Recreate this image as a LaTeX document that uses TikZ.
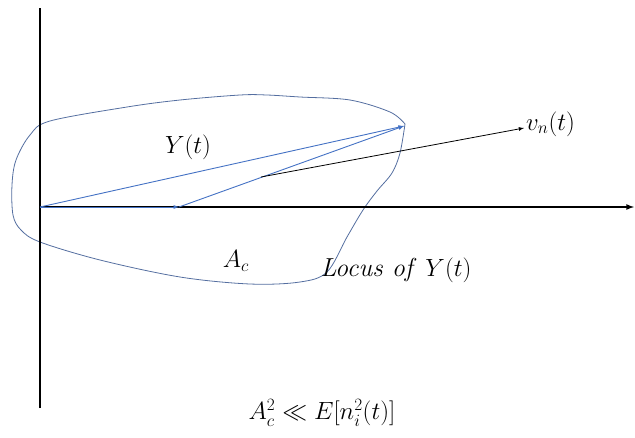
\documentclass[tikz,border=0pt]{standalone}
\usepackage{amsmath,amssymb}
\usetikzlibrary{arrows,positioning,calc}
\definecolor{vecblue}{RGB}{68,114,196}
\definecolor{locblue}{RGB}{84,110,160}

\begin{document}
\begin{tikzpicture}[x=1pt,y=-1pt,>=latex,
  lbl/.style={inner sep=1pt,font=\fontsize{26}{30}\selectfont}]
\useasboundingbox (0,0) rectangle (635,437);
\coordinate (o) at (40,207);
\coordinate (top) at (40,8);
\coordinate (bot) at (40,408);
\coordinate (xend) at (634,207);
\coordinate (ac) at (179,207);
\coordinate (y) at (404,126);
\coordinate (ns) at (261,177);
\coordinate (ne) at (524,128);
% locus
\draw[locblue,line width=0.8pt] plot[smooth,tension=0.55] coordinates {
(405,124) (390,112) (350,100) (300,97) (267,95) (240,95) (180,100) (127,107)
(50,121) (30,135) (16,160) (12,185) (13,215) (21,230) (40,242) (100,260)
(180,277) (250,284) (300,282) (327,272) (347,237) (363,210) (377,191)
(392,173) (400,153) (405,124)};
\path[-,line width=1.6pt]
(bot) edge (top)
;
\path[->,line width=1.6pt]
(o) edge (xend)
;
\path[->,vecblue,line width=0.9pt]
(o) edge (ac) edge (y)
(ac) edge (y)
;
\path[->,line width=0.8pt]
(ns) edge (ne)
;
\node[lbl] (ylbl) at (188,147) {$Y(t)$};
\node[lbl,right=1pt of ne,yshift=4pt] (vlbl) {$v_n(t)$};
\node[lbl] (aclbl) at (236,261) {$A_c$};
\node[lbl] (loclbl) at (396,270) {\textit{Locus of }$Y(t)$};
\node[lbl] (cond) at (322,413) {$A_c^2 \ll E[n_i^2(t)]$};
\end{tikzpicture}
\end{document}
